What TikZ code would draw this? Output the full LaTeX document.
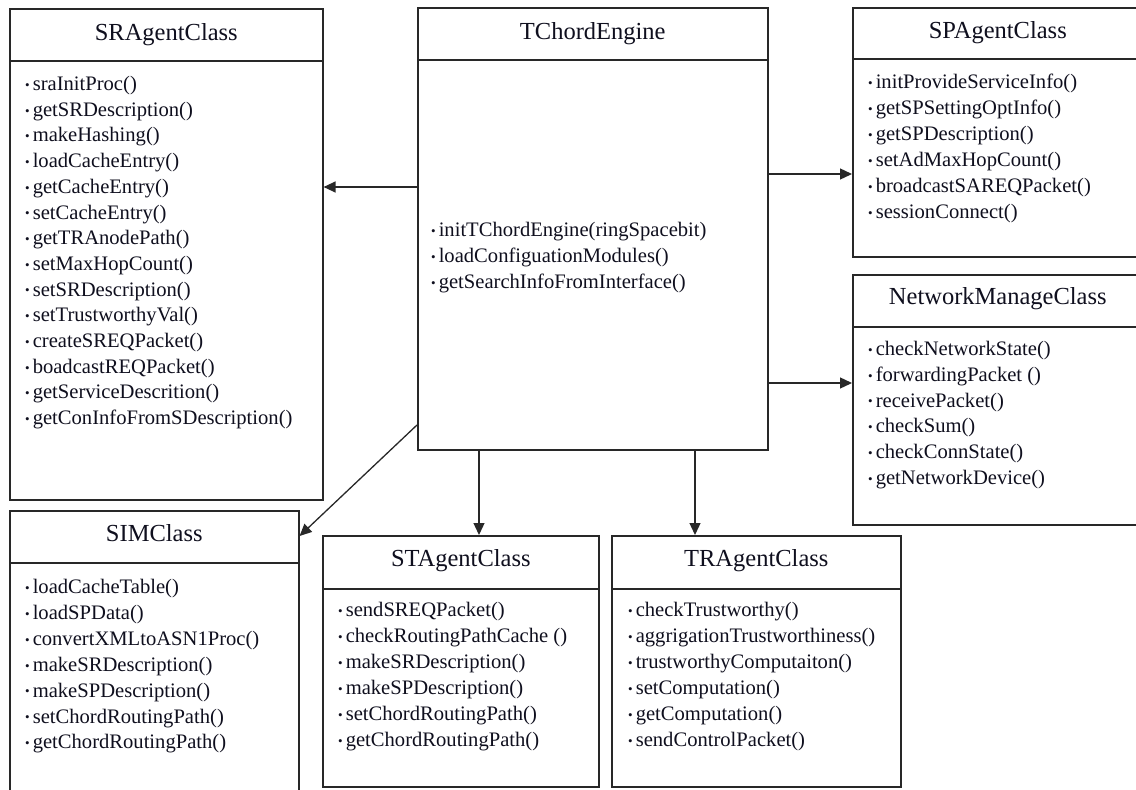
\documentclass[tikz,border=0pt]{standalone}
\usepackage{fontspec}
\setmainfont{Liberation Serif}
\usetikzlibrary{arrows.meta}

\definecolor{linec}{RGB}{40,40,40}
\definecolor{arrowc}{RGB}{40,40,40}
\definecolor{textc}{RGB}{15,15,30}

\tikzset{
  classbox/.style={draw=linec, line width=1.6pt, fill=white, inner sep=0pt, anchor=north west},
  divider/.style={draw=linec, line width=2.2pt},
  title/.style={font=\fontsize{24.5}{24.5}\selectfont, inner sep=0pt, anchor=base, text=textc},
  item/.style={font=\fontsize{20.6}{20.6}\selectfont, inner sep=0pt, anchor=base west, text=textc},
  link/.style={draw=arrowc, line width=1.3pt, -{Triangle[length=12pt,width=11pt]}},
}
\newcommand{\bul}{{\fontsize{13}{13}\selectfont\raisebox{0.2ex}{•}}\hspace{3pt}}

\begin{document}
\begin{tikzpicture}[x=1pt,y=-1pt]
\useasboundingbox (0,0) rectangle (1136,790);

% ---- class boxes ----
\node[classbox, minimum width=313pt, minimum height=491pt] (sr)  at (9,8) {};
\node[classbox, minimum width=350pt, minimum height=442pt] (tc)  at (417,7) {};
\node[classbox, minimum width=290pt, minimum height=249pt] (sp)  at (852,7) {};
\node[classbox, minimum width=290pt, minimum height=250pt] (nm)  at (852,274) {};
\node[classbox, minimum width=289pt, minimum height=292pt] (sim) at (9,510) {};
\node[classbox, minimum width=276pt, minimum height=251pt] (st)  at (322,535) {};
\node[classbox, minimum width=289pt, minimum height=251pt] (tr)  at (611,535) {};

% ---- header dividers ----
\draw[divider] (sr.north west  |- 0,61)  -- (sr.north east  |- 0,61);
\draw[divider] (tc.north west  |- 0,60)  -- (tc.north east  |- 0,60);
\draw[divider] (sp.north west  |- 0,59)  -- (sp.north east  |- 0,59);
\draw[divider] (nm.north west  |- 0,327) -- (nm.north east  |- 0,327);
\draw[divider] (sim.north west |- 0,563) -- (sim.north east |- 0,563);
\draw[divider] (st.north west  |- 0,589) -- (st.north east  |- 0,589);
\draw[divider] (tr.north west  |- 0,589) -- (tr.north east  |- 0,589);

% ---- class names ----
\node[title] (sr-t)  at (sr.north  |- 0,40)  {SRAgentClass};
\node[title] (tc-t)  at (tc.north  |- 0,39)  {TChordEngine};
\node[title] (sp-t)  at (sp.north  |- 0,38)  {SPAgentClass};
\node[title] (nm-t)  at (nm.north  |- 0,304) {NetworkManageClass};
\node[title] (sim-t) at (sim.north |- 0,541) {SIMClass};
\node[title] (st-t)  at (st.north  |- 0,566) {STAgentClass};
\node[title] (tr-t)  at (tr.north  |- 0,566) {TRAgentClass};

% ---- operations ----
\foreach \t [count=\i] in {sraInitProc(), getSRDescription(), makeHashing(),
  loadCacheEntry(), getCacheEntry(), setCacheEntry(), getTRAnodePath(),
  setMaxHopCount(), setSRDescription(), setTrustworthyVal(), createSREQPacket(),
  boadcastREQPacket(), getServiceDescrition(), getConInfoFromSDescription()}
  \node[item] (sr-\i) at ({25},{90.5+(\i-1)*25.7}) {\bul\t};

\foreach \t [count=\i] in {initTChordEngine(ringSpacebit), loadConfiguationModules(),
  getSearchInfoFromInterface()}
  \node[item] (tc-\i) at ({431},{236.5+(\i-1)*26}) {\bul\t};

\foreach \t [count=\i] in {initProvideServiceInfo(), getSPSettingOptInfo(),
  getSPDescription(), setAdMaxHopCount(), broadcastSAREQPacket(), sessionConnect()}
  \node[item] (sp-\i) at ({868},{88.5+(\i-1)*26}) {\bul\t};

\foreach \t [count=\i] in {checkNetworkState(), forwardingPacket (), receivePacket(),
  checkSum(), checkConnState(), getNetworkDevice()}
  \node[item] (nm-\i) at ({868},{355.5+(\i-1)*25.8}) {\bul\t};

\foreach \t [count=\i] in {loadCacheTable(), loadSPData(), convertXMLtoASN1Proc(),
  makeSRDescription(), makeSPDescription(), setChordRoutingPath(), getChordRoutingPath()}
  \node[item] (sim-\i) at ({25},{593.5+(\i-1)*25.9}) {\bul\t};

\foreach \t [count=\i] in {sendSREQPacket(), checkRoutingPathCache (), makeSRDescription(),
  makeSPDescription(), setChordRoutingPath(), getChordRoutingPath()}
  \node[item] (st-\i) at ({338},{616.5+(\i-1)*26}) {\bul\t};

\foreach \t [count=\i] in {checkTrustworthy(), aggrigationTrustworthiness(),
  trustworthyComputaiton(), setComputation(), getComputation(), sendControlPacket()}
  \node[item] (tr-\i) at ({628},{616.5+(\i-1)*26}) {\bul\t};

% ---- associations from the engine ----
\draw[link] (tc.north west |- 0,187) -- (sr.north east |- 0,187);
\draw[link] (tc.north east |- 0,174) -- (sp.north west |- 0,174);
\draw[link] (tc.north east |- 0,383) -- (nm.north west |- 0,383);
\draw[link] (tc.north west |- 0,425) -- (sim.north east |- 0,536);
\draw[link] (tc.south -| 479,0) -- (st.north -| 479,0);
\draw[link] (tc.south -| 695,0) -- (tr.north -| 695,0);
\end{tikzpicture}
\end{document}
